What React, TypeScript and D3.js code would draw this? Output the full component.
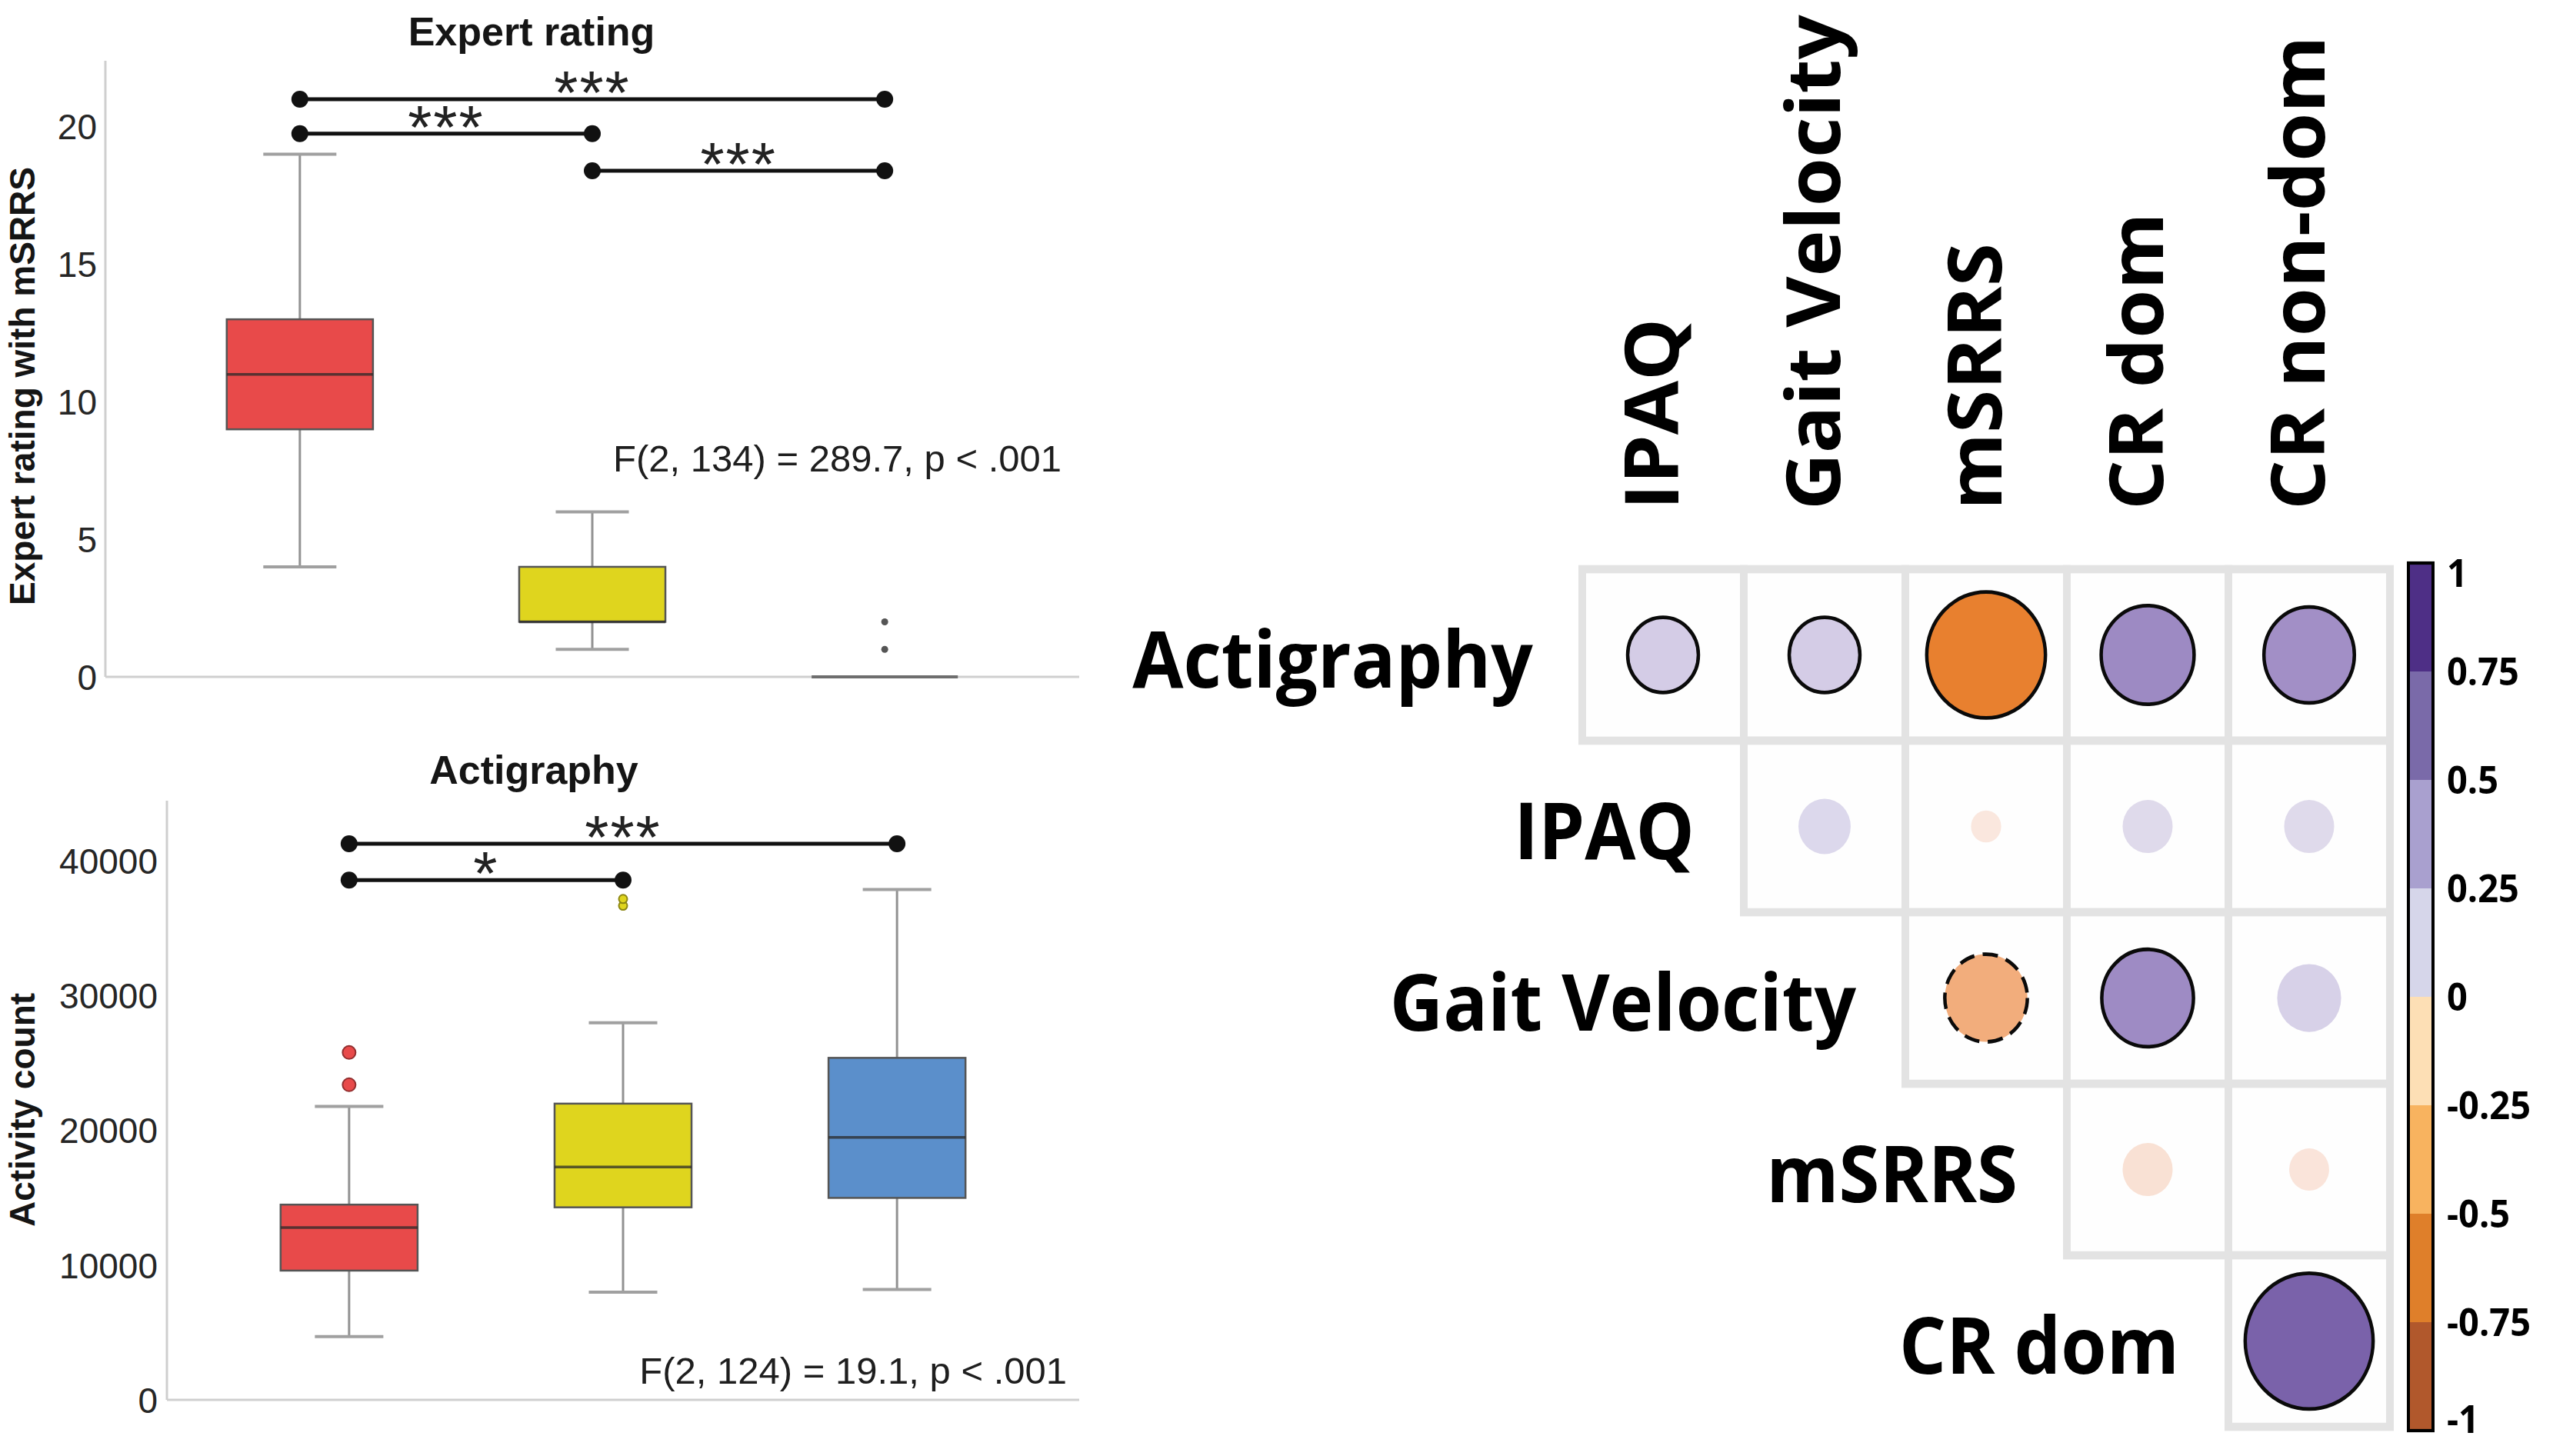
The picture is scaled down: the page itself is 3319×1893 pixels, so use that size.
import React from "react";
import * as d3 from "d3";

// ---------------- Box plot data ----------------
const groups = ["Group 1", "Group 2", "Group 3"];
const groupColors = ["#e84a4a", "#dfd51e", "#5b8fcb"];

// Expert rating with mSRRS
const expertTicks = [0, 5, 10, 15, 20];
const expertMin = [4, 1, 0];
const expertQ1 = [9, 2, 0];
const expertMedian = [11, 2, 0];
const expertQ3 = [13, 4, 0];
const expertMax = [19, 6, 0];
const expertOutliers = [[], [], [1, 2]];
const expertSig = [
  { from: 0, to: 2, value: 21.0, label: "***" },
  { from: 0, to: 1, value: 19.75, label: "***" },
  { from: 1, to: 2, value: 18.4, label: "***" },
];

// Actigraphy activity count
const actiTicks = [0, 10000, 20000, 30000, 40000];
const actiMin = [4700, 8000, 8200];
const actiQ1 = [9600, 14300, 15000];
const actiMedian = [12800, 17300, 19500];
const actiQ3 = [14500, 22000, 25400];
const actiMax = [21800, 28000, 37900];
const actiOutliers = [[23400, 25800], [36700, 37200], []];
const actiSig = [
  { from: 0, to: 2, value: 41300, label: "***" },
  { from: 0, to: 1, value: 38600, label: "*" },
];

// ---------------- Correlation matrix data ----------------
const rowVars = ["Actigraphy", "IPAQ", "Gait Velocity", "mSRRS", "CR dom"];
const colVars = ["IPAQ", "Gait Velocity", "mSRRS", "CR dom", "CR non-dom"];
const corrActigraphy = [0.22, 0.22, -0.62, 0.38, 0.36];
const corrIPAQ = [null, 0.12, -0.04, 0.11, 0.11];
const corrGait = [null, null, -0.3, 0.37, 0.18];
const corrMSRRS = [null, null, null, -0.11, -0.07];
const corrCRdom = [null, null, null, null, 0.72];
const corrRows = [corrActigraphy, corrIPAQ, corrGait, corrMSRRS, corrCRdom];
// significance: "p<.05" solid outline, "p<.10" dashed outline, "ns" none
const sigActigraphy = ["p<.05", "p<.05", "p<.05", "p<.05", "p<.05"];
const sigIPAQ = [null, "ns", "ns", "ns", "ns"];
const sigGait = [null, null, "p<.10", "p<.05", "ns"];
const sigMSRRS = [null, null, null, "ns", "ns"];
const sigCRdom = [null, null, null, null, "p<.05"];
const sigRows = [sigActigraphy, sigIPAQ, sigGait, sigMSRRS, sigCRdom];

const colorBarBreaks = [-1, -0.75, -0.5, -0.25, 0, 0.25, 0.5, 0.75, 1];
const colorBarLabels = ["-1", "-0.75", "-0.5", "-0.25", "0", "0.25", "0.5", "0.75", "1"];
const colorBarColors = ["#b1582c", "#df7f2a", "#f8b35f", "#fddfb5", "#d6d6ea", "#a9a0cf", "#7a6aa9", "#4e2f86"];
const circleColorDomain = [-1, -0.62, -0.3, -0.12, 0, 0.12, 0.22, 0.37, 0.72, 1];
const circleColorRange = ["#b35806", "#e8802f", "#f2ad7c", "#f9e0d3", "#fbeae3", "#dcd8ec", "#d4cce6", "#9e8bc4", "#7a62aa", "#542788"];

const LEFT_FONT = "'Liberation Sans', Arial, sans-serif";
const RIGHT_FONT = "'Open Sans', sans-serif";

type Sig = { from: number; to: number; value: number; label: string };

function BoxPanel(p: any) {
  const y = d3.scaleLinear().domain([0, p.yMax]).range([p.base, p.top]);
  const x = d3.scalePoint<string>().domain(groups).range([p.axisX, p.right]).padding(0.665);
  const step = x.step();
  const bw = step * 0.5;
  const cw = bw * 0.5;
  return (
    <g>
      <text x={p.titleX} y={p.titleY} textAnchor="middle" fontFamily={LEFT_FONT} fontWeight="bold" fontSize={52} fill="#151515">
        {p.title}
      </text>
      <text
        transform={`translate(${p.yLabelX},${p.yLabelY}) rotate(-90)`}
        textAnchor="middle"
        fontFamily={LEFT_FONT}
        fontWeight="bold"
        fontSize={46}
        fill="#151515"
      >
        {p.yLabel}
      </text>
      {/* axes */}
      <line x1={p.axisX} x2={p.axisX} y1={p.top} y2={p.base} stroke="#cfcfcf" strokeWidth={3} />
      <line x1={p.axisX} x2={p.right} y1={p.base} y2={p.base} stroke="#cfcfcf" strokeWidth={3} />
      {p.ticks.map((t: number) => (
        <text key={t} x={p.tickX} y={y(t)} dy="0.36em" textAnchor="end" fontFamily={LEFT_FONT} fontSize={46} fill="#262626">
          {t}
        </text>
      ))}
      {/* boxes */}
      {groups.map((g, i) => {
        const cx = x(g)!;
        const x0 = cx - bw / 2;
        const x1 = cx + bw / 2;
        const yq1 = y(p.q1[i]);
        const yq3 = y(p.q3[i]);
        const collapsed = p.q1[i] === p.q3[i];
        return (
          <g key={g}>
            {!collapsed && (
              <>
                <line x1={cx} x2={cx} y1={y(p.max[i])} y2={yq3} stroke="#929292" strokeWidth={3} />
                <line x1={cx} x2={cx} y1={yq1} y2={y(p.min[i])} stroke="#929292" strokeWidth={3} />
                <line x1={cx - cw / 2} x2={cx + cw / 2} y1={y(p.max[i])} y2={y(p.max[i])} stroke="#a0a0a0" strokeWidth={4} />
                <line x1={cx - cw / 2} x2={cx + cw / 2} y1={y(p.min[i])} y2={y(p.min[i])} stroke="#a0a0a0" strokeWidth={4} />
                <rect x={x0} y={yq3} width={bw} height={yq1 - yq3} fill={groupColors[i]} stroke="#555" strokeWidth={2.5} />
                <line x1={x0} x2={x1} y1={y(p.median[i])} y2={y(p.median[i])} stroke="#2a2a2a" strokeOpacity={0.75} strokeWidth={3.5} />
              </>
            )}
            {collapsed && (
              <line x1={x0} x2={x1} y1={yq1} y2={yq1} stroke="#6e6e6e" strokeWidth={4} />
            )}
            {p.outliers[i].map((v: number, k: number) => (
              <circle
                key={k}
                cx={cx}
                cy={y(v)}
                r={collapsed ? 4.5 : p.outlierR[i]}
                fill={collapsed ? "#555" : groupColors[i]}
                stroke={collapsed ? "none" : d3.color(groupColors[i])!.darker(1.3).toString()}
                strokeWidth={2}
              />
            ))}
          </g>
        );
      })}
      {/* significance brackets */}
      {p.sigs.map((s: Sig, k: number) => {
        const xa = x(groups[s.from])!;
        const xb = x(groups[s.to])!;
        const yy = y(s.value);
        return (
          <g key={k}>
            <line x1={xa} x2={xb} y1={yy} y2={yy} stroke="#111" strokeWidth={5} />
            <circle cx={xa} cy={yy} r={11} fill="#111" />
            <circle cx={xb} cy={yy} r={11} fill="#111" />
            <text x={(xa + xb) / 2} y={yy + 19} textAnchor="middle" fontFamily={LEFT_FONT} fontSize={80} letterSpacing={2} fill="#222">
              {s.label}
            </text>
          </g>
        );
      })}
      <text x={p.fX} y={p.fY} textAnchor="end" fontFamily={LEFT_FONT} fontSize={49} fill="#1e1e1e">
        {p.fText}
      </text>
    </g>
  );
}

function CorrPanel() {
  const stretch = 1.062;
  const cell = 210;
  const gx0 = 2057;
  const gy0 = 740 / stretch;
  const xs = d3.scaleBand<string>().domain(colVars).range([gx0, gx0 + cell * colVars.length]);
  const ys = d3.scaleBand<string>().domain(rowVars).range([gy0, gy0 + cell * rowVars.length]);
  const rScale = d3.scaleSqrt().domain([0, 1]).range([0, 98]);
  const color = d3.scaleLinear<string>().domain(circleColorDomain).range(circleColorRange).interpolate(d3.interpolateRgb);
  const cb = d3.scaleLinear().domain([-1, 1]).range([1860 / stretch, 732 / stretch]);
  const cbX = 3131;
  const cbW = 32;
  return (
    <g transform={`scale(1,${stretch})`}>
      {/* column labels */}
      {colVars.map((c) => (
        <text
          key={c}
          transform={`translate(${xs(c)! + cell / 2 + 20},${663 / stretch}) rotate(-90)`}
          fontFamily={RIGHT_FONT}
          fontWeight="bold"
          fontSize={96}
          fill="#000"
        >
          {c}
        </text>
      ))}
      {/* row labels */}
      {rowVars.map((r, i) => (
        <text
          key={r}
          x={xs(colVars[i])! - 64}
          y={ys(r)! + cell / 2 + 40}
          textAnchor="end"
          fontFamily={RIGHT_FONT}
          fontWeight="bold"
          fontSize={96}
          fill="#000"
        >
          {r}
        </text>
      ))}
      {/* cells */}
      {rowVars.map((r, i) =>
        colVars.map((c, j) => {
          const v = corrRows[i][j];
          if (v === null) return null;
          return (
            <rect key={`${r}-${c}`} x={xs(c)!} y={ys(r)!} width={cell} height={cell} fill="#fefefe" stroke="#e3e3e3" strokeWidth={10} />
          );
        })
      )}
      {rowVars.map((r, i) =>
        colVars.map((c, j) => {
          const v = corrRows[i][j];
          if (v === null) return null;
          const s = sigRows[i][j];
          return (
            <circle
              key={`c-${r}-${c}`}
              cx={xs(c)! + cell / 2}
              cy={ys(r)! + cell / 2}
              r={rScale(Math.abs(v))}
              fill={color(v)}
              stroke={s === "ns" ? "none" : "#0a0a0a"}
              strokeWidth={4.5}
              strokeDasharray={s === "p<.10" ? "20 11" : undefined}
            />
          );
        })
      )}
      {/* color bar */}
      {colorBarColors.map((col, k) => (
        <rect
          key={k}
          x={cbX}
          y={cb(colorBarBreaks[k + 1])}
          width={cbW}
          height={cb(colorBarBreaks[k]) - cb(colorBarBreaks[k + 1])}
          fill={col}
        />
      ))}
      <rect x={cbX} y={cb(1)} width={cbW} height={cb(-1) - cb(1)} fill="none" stroke="#000" strokeWidth={4} />
      {colorBarBreaks.map((b, k) => {
        const inset = b === 1 ? 12 : b === -1 ? -14 : 0;
        return (
          <text
            key={b}
            x={cbX + cbW + 18}
            y={cb(b) + inset}
            dy="0.36em"
            fontFamily={RIGHT_FONT}
            fontWeight="bold"
            fontSize={47}
            fill="#000"
          >
            {colorBarLabels[k]}
          </text>
        );
      })}
    </g>
  );
}

export default function App() {
  return (
    <svg
      width={3319}
      height={1893}
      viewBox="0 0 3319 1893"
      style={{ position: "absolute", left: 0, top: 0, display: "block", background: "#ffffff" }}
    >
      <rect x={0} y={0} width={3319} height={1893} fill="#ffffff" />
      <BoxPanel
        title="Expert rating"
        titleX={691}
        titleY={59}
        yLabel="Expert rating with mSRRS"
        yLabelX={45}
        yLabelY={502}
        axisX={137}
        right={1403}
        top={79}
        base={880}
        yMax={22.4}
        ticks={expertTicks}
        tickX={126}
        min={expertMin}
        q1={expertQ1}
        median={expertMedian}
        q3={expertQ3}
        max={expertMax}
        outliers={expertOutliers}
        outlierR={[8.5, 5.5, 4.5]}
        sigs={expertSig}
        fText="F(2, 134) = 289.7, p < .001"
        fX={1380}
        fY={613}
      />
      <BoxPanel
        title="Actigraphy"
        titleX={694}
        titleY={1019}
        yLabel="Activity count"
        yLabelX={45}
        yLabelY={1443}
        axisX={217}
        right={1403}
        top={1041}
        base={1820}
        yMax={44500}
        ticks={actiTicks}
        tickX={205}
        min={actiMin}
        q1={actiQ1}
        median={actiMedian}
        q3={actiQ3}
        max={actiMax}
        outliers={actiOutliers}
        outlierR={[8.5, 5.5, 5]}
        sigs={actiSig}
        fText="F(2, 124) = 19.1, p < .001"
        fX={1387}
        fY={1799}
      />
      <CorrPanel />
    </svg>
  );
}
